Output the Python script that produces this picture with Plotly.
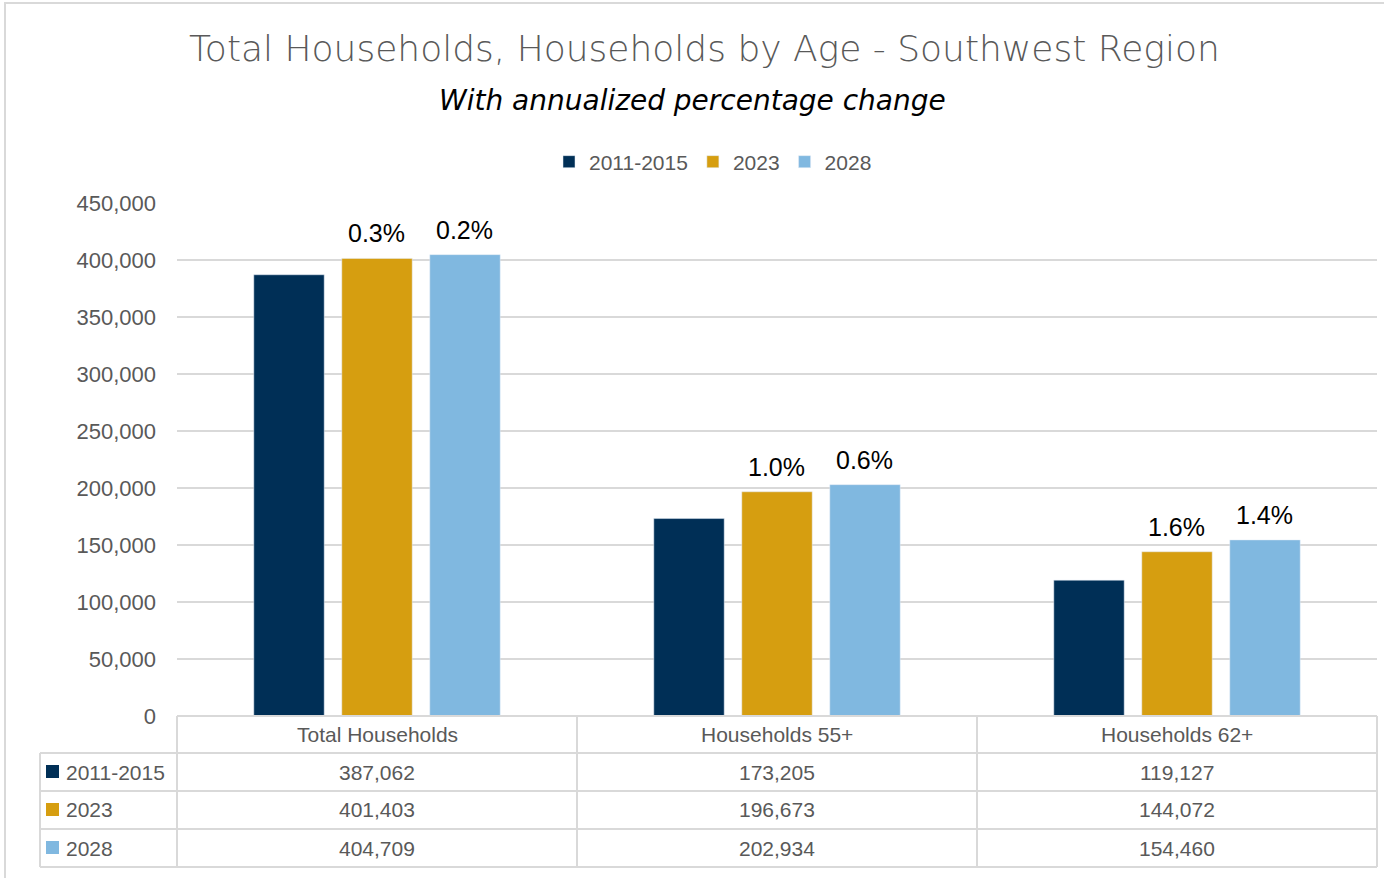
import plotly.graph_objects as go

categories = ["Total Households", "Households 55+", "Households 62+"]
series_names = ["2011-2015", "2023", "2028"]
vals_2011_2015 = [387062, 173205, 119127]
vals_2023 = [401403, 196673, 144072]
vals_2028 = [404709, 202934, 154460]
pct_2023 = ["0.3%", "1.0%", "1.6%"]
pct_2028 = ["0.2%", "0.6%", "1.4%"]
tick_vals = [0, 50000, 100000, 150000, 200000, 250000, 300000, 350000, 400000, 450000]

colors = ["#002f56", "#d69e10", "#80b8e0"]
series_vals = [vals_2011_2015, vals_2023, vals_2028]

W, H = 1384, 878
PL, PR, PT, PB = 177, 1377, 203, 716  # plot area in pixels
BARGAP, GROUPGAP = 0.34, 0.2


def px(x):
    return (x - PL) / (PR - PL)


def py(y):
    return (PB - y) / (PB - PT)


fig = go.Figure()
for name, vals, col in zip(series_names, series_vals, colors):
    fig.add_trace(go.Bar(name=name, x=categories, y=vals, marker_color=col))

grid = "#d9d9d9"
shapes = []
annos = []

# percentage labels above the 2023 / 2028 bars
slot = (PR - PL) / len(categories) * (1 - BARGAP) / 3
for k, (vals, pcts) in enumerate([(vals_2023, pct_2023), (vals_2028, pct_2028)]):
    for cat, v, p in zip(categories, vals, pcts):
        annos.append(dict(x=cat, y=v, xref="x", yref="y", text=p, showarrow=False,
                          xanchor="center", yanchor="bottom", xshift=k * slot - 1, yshift=9,
                          font=dict(family="Liberation Sans", size=25, color="#000000")))

# chart outer border
shapes.append(dict(type="rect", xref="paper", yref="paper", x0=px(5), x1=px(1390),
                   y0=py(884), y1=py(3), line=dict(color="#d9d9d9", width=2)))

# data table
col_x = [PL, 577, 977, PR]
row_y = [716, 753, 791, 829, 867]
line_t = dict(color=grid, width=2)
shapes.append(dict(type="line", xref="paper", yref="paper", x0=px(PL), x1=px(PR),
                   y0=py(row_y[0]), y1=py(row_y[0]), line=line_t))
for y in row_y[1:]:
    shapes.append(dict(type="line", xref="paper", yref="paper", x0=px(40), x1=px(PR),
                       y0=py(y), y1=py(y), line=line_t))
shapes.append(dict(type="line", xref="paper", yref="paper", x0=px(40), x1=px(40),
                   y0=py(row_y[1]), y1=py(row_y[-1]), line=line_t))
for x in col_x:
    shapes.append(dict(type="line", xref="paper", yref="paper", x0=px(x), x1=px(x),
                       y0=py(row_y[0]), y1=py(row_y[-1]), line=line_t))

tfont = dict(family="Liberation Sans", size=21, color="#595959")
for i, cat in enumerate(categories):
    cx = (col_x[i] + col_x[i + 1]) / 2
    annos.append(dict(x=px(cx), y=py((row_y[0] + row_y[1]) / 2), xref="paper", yref="paper",
                      xanchor="center", yanchor="middle", text=cat, showarrow=False, font=tfont))
for r, (name, vals, col) in enumerate(zip(series_names, series_vals, colors)):
    yc = (row_y[r + 1] + row_y[r + 2]) / 2
    shapes.append(dict(type="rect", xref="paper", yref="paper", x0=px(46), x1=px(59),
                       y0=py(yc + 6), y1=py(yc - 7), fillcolor=col, line=dict(width=0)))
    annos.append(dict(x=px(64), y=py(yc), xref="paper", yref="paper", xanchor="left",
                      yanchor="middle", text=name, showarrow=False, font=tfont))
    for i, v in enumerate(vals):
        cx = (col_x[i] + col_x[i + 1]) / 2
        annos.append(dict(x=px(cx), y=py(yc), xref="paper", yref="paper", xanchor="center",
                          yanchor="middle", text=f"{v:,}", showarrow=False, font=tfont))

# titles
annos.append(dict(x=px(704), y=py(48), xref="paper", yref="paper", xanchor="center",
                  yanchor="middle",
                  text="Total Households, Households by Age - Southwest Region", showarrow=False,
                  font=dict(family="DejaVu Sans", size=36, color="#595959", weight=200)))
annos.append(dict(x=px(692), y=py(101), xref="paper", yref="paper", xanchor="center",
                  yanchor="middle",
                  text="<i>With annualized percentage change</i>", showarrow=False,
                  font=dict(family="DejaVu Sans", size=28, color="#000000", weight=200)))

fig.update_layout(
    width=W, height=H,
    margin=dict(l=PL, r=W - PR, t=PT, b=H - PB),
    paper_bgcolor="white", plot_bgcolor="white",
    barmode="group", bargap=BARGAP, bargroupgap=GROUPGAP,
    showlegend=True,
    legend=dict(orientation="h", x=px(713), xanchor="center", y=py(162), yanchor="middle",
                font=dict(family="Liberation Sans", size=21, color="#595959"),
                itemwidth=30, traceorder="normal"),
    xaxis=dict(showticklabels=False, showline=False, ticks=""),
    yaxis=dict(range=[0, 450000], tickvals=tick_vals, tickformat=",d",
               showgrid=True, gridcolor=grid, gridwidth=2, zeroline=False,
               tickfont=dict(family="Liberation Sans", size=22, color="#595959"),
               ticklabelstandoff=20),
    shapes=shapes, annotations=annos,
)

fig.write_html("out.html", config={"displayModeBar": False},
               post_script="document.body.style.margin='0';")
